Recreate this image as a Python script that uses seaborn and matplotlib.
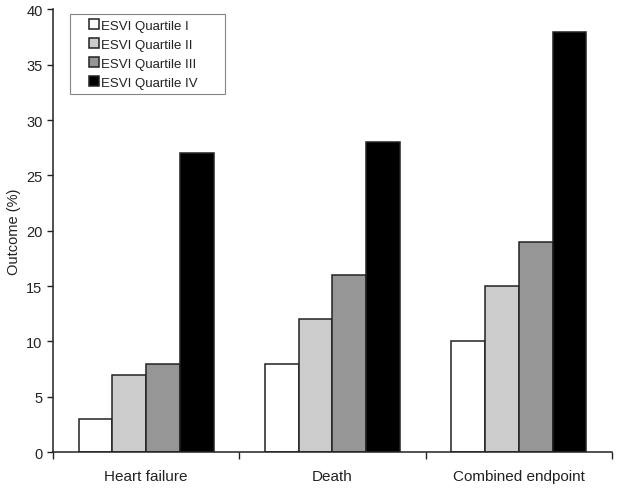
import pandas as pd
import matplotlib.pyplot as plt
import seaborn as sns
from matplotlib.ticker import FixedLocator
from matplotlib.patches import Rectangle
from matplotlib.legend_handler import HandlerPatch

# Dados
outcomes = ["Heart failure", "Death", "Combined endpoint"]
quartis = ["ESVI Quartile I", "ESVI Quartile II", "ESVI Quartile III", "ESVI Quartile IV"]
q1 = [3, 8, 10]
q2 = [7, 12, 15]
q3 = [8, 16, 19]
q4 = [27, 28, 38]
cores = ["#ffffff", "#cccccc", "#969696", "#000000"]

df = pd.DataFrame({
    "Outcome": outcomes * 4,
    "Quartil": [q for q in quartis for _ in outcomes],
    "Valor": q1 + q2 + q3 + q4,
})

sns.set_style("white")
plt.rcParams["font.family"] = ["Liberation Sans", "DejaVu Sans"]
plt.rcParams["text.color"] = "#222222"
plt.rcParams["axes.labelcolor"] = "#222222"
plt.rcParams["xtick.color"] = "#222222"
plt.rcParams["ytick.color"] = "#222222"

fig = plt.figure(figsize=(6.19, 4.89), dpi=100)
ax = fig.add_axes([0.0856, 0.0736, 0.9031, 0.905])

sns.barplot(data=df, x="Outcome", y="Valor", hue="Quartil", palette=cores,
            width=0.725, gap=0, edgecolor="#222222", linewidth=1.1,
            saturation=1, ax=ax)

ax.set_ylim(0, 40)
ax.set_yticks(range(0, 41, 5))
ax.set_xlim(-0.5, 2.5)
ax.set_xlabel("")
ax.set_ylabel("Outcome (%)", fontsize=10.5)
ax.tick_params(axis="y", length=4, width=1, labelsize=10.5, direction="out", left=True)
ax.tick_params(axis="x", which="major", length=0, labelsize=11, pad=12)
ax.xaxis.set_minor_locator(FixedLocator([-0.5, 0.5, 1.5, 2.5]))
ax.tick_params(axis="x", which="minor", length=5, width=1, direction="out", bottom=True)

for s in ["top", "right"]:
    ax.spines[s].set_visible(False)
for s in ["left", "bottom"]:
    ax.spines[s].set_color("#222222")
    ax.spines[s].set_linewidth(1.1)


# quadradinho da legenda encostado no texto
def quadrado(legend, orig_handle, xdescent, ydescent, width, height, fontsize):
    lado = height * 1.05
    return Rectangle((width - lado - xdescent, -ydescent + (height - lado) / 2), lado, lado)


handles, labels = ax.get_legend_handles_labels()
leg = ax.legend(handles, labels, loc="upper left",
                bbox_to_anchor=(0.03, 0.80, 0.277, 0.19), mode="expand",
                borderaxespad=0, fontsize=9.5, frameon=True, fancybox=False,
                handlelength=1.8, handleheight=0.75, handletextpad=0.15,
                labelspacing=0.5, borderpad=0.4,
                handler_map={Rectangle: HandlerPatch(patch_func=quadrado)})
leg.get_frame().set_edgecolor("#666666")
leg.get_frame().set_linewidth(0.8)

fig.savefig("out.png", dpi=100)
